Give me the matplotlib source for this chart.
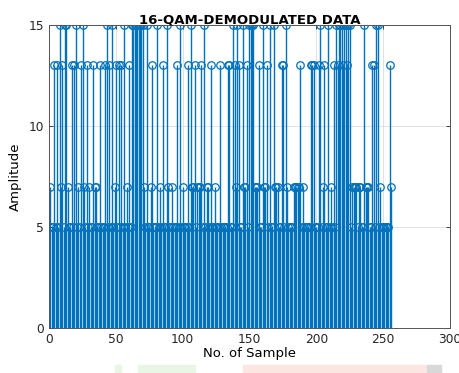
import numpy as np
import matplotlib
matplotlib.use("Agg")
import matplotlib.pyplot as plt
from matplotlib.patches import Rectangle

# demodulated symbols, one per sample (1..256)
samples = np.arange(1, 257)
demod = [
    7, 5, 5, 13, 5, 13, 5, 15, 7, 13, 5, 15, 15, 7, 5, 5,
    13, 5, 13, 15, 5, 7, 5, 13, 15, 7, 5, 13, 5, 7, 5, 5,
    13, 7, 7, 5, 5, 13, 5, 5, 5, 13, 15, 5, 13, 5, 15, 5,
    7, 13, 5, 13, 5, 13, 5, 15, 5, 7, 5, 13, 5, 15, 15, 15,
    15, 15, 15, 15, 15, 15, 7, 5, 15, 5, 5, 7, 13, 5, 5, 5,
    15, 5, 7, 5, 13, 5, 5, 15, 7, 5, 5, 7, 5, 5, 5, 13,
    5, 15, 5, 7, 5, 5, 5, 13, 5, 15, 7, 7, 13, 5, 7, 7,
    7, 13, 5, 15, 5, 7, 7, 5, 13, 5, 5, 7, 5, 5, 5, 13,
    5, 5, 5, 5, 5, 13, 13, 5, 5, 15, 13, 7, 15, 13, 5, 5,
    15, 7, 7, 13, 5, 15, 15, 15, 15, 7, 7, 7, 13, 5, 5, 15,
    7, 7, 13, 5, 15, 5, 5, 15, 7, 7, 7, 5, 5, 13, 13, 5,
    15, 7, 5, 5, 5, 5, 7, 7, 7, 7, 7, 13, 5, 7, 5, 5,
    5, 5, 5, 13, 13, 13, 5, 5, 5, 13, 15, 5, 7, 13, 5, 5,
    15, 5, 7, 5, 13, 5, 15, 13, 15, 15, 15, 13, 15, 15, 13, 15,
    15, 5, 7, 7, 7, 7, 5, 7, 7, 5, 5, 15, 7, 7, 7, 5,
    5, 13, 13, 5, 15, 15, 5, 7, 5, 5, 5, 5, 5, 5, 13, 7,
]

x_ticks = [0, 50, 100, 150, 200, 250, 300]
y_ticks = [0, 5, 10, 15]

blue = "#0072BD"

fig = plt.figure(figsize=(4.59, 3.73), dpi=100)
ax = fig.add_axes([0.107, 0.121, 0.873, 0.812])

markerline, stemlines, baseline = ax.stem(samples, demod, basefmt=" ")
plt.setp(stemlines, color=blue, linewidth=1.0)
plt.setp(markerline, color=blue, marker="o", markersize=5.4,
         markerfacecolor="none", markeredgewidth=0.9)

ax.set_xlim(0, 300)
ax.set_ylim(0, 15)
ax.set_xticks(x_ticks)
ax.set_yticks(y_ticks)
ax.grid(True, color="#dcdcdc", linewidth=0.6)
ax.set_axisbelow(True)
ax.tick_params(direction="in", top=True, right=True, length=3,
               labelsize=8.8, colors="#262626", width=0.6)
for sp in ax.spines.values():
    sp.set_color("#555555")
    sp.set_linewidth(0.7)

ax.set_title("16-QAM-DEMODULATED DATA", fontsize=9.5, fontweight="bold", pad=1)
ax.set_xlabel("No. of Sample", fontsize=9.5, labelpad=1)
ax.set_ylabel("Amplitude", fontsize=9.5, labelpad=5)

# faint coloured strips along the bottom edge
for x0, w, c in [(115, 6, "#e9f6e6"), (138, 57, "#e9f6e6"),
                 (243, 185, "#fce6e2"), (427, 14, "#d8d8d8")]:
    fig.patches.append(Rectangle((x0 / 459, 0), w / 459, 8 / 373,
                                 transform=fig.transFigure, color=c, zorder=0))

fig.savefig("out.png", dpi=100)
